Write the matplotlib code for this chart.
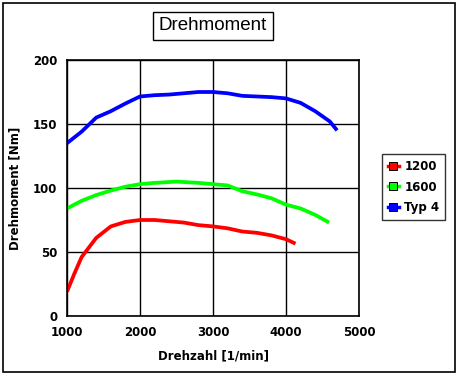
import matplotlib
matplotlib.use("Agg")
import matplotlib.pyplot as plt
from matplotlib.patches import Rectangle
from matplotlib.lines import Line2D

rpm_1200 = [1000, 1100, 1200, 1400, 1600, 1800, 2000, 2200, 2400, 2600, 2800, 3000, 3200, 3400, 3600, 3800, 4000, 4130]
nm_1200 = [19, 33, 46, 61, 70, 73.5, 75, 75, 74, 73, 71, 70, 68.5, 66, 65, 63, 60, 56.5]

rpm_1600 = [1000, 1200, 1400, 1600, 1800, 2000, 2200, 2500, 2800, 3000, 3200, 3400, 3600, 3800, 4000, 4200, 4400, 4590]
nm_1600 = [84, 90, 94.5, 98, 101, 103, 104, 105, 104, 103, 102, 97.5, 95, 92, 87, 84, 79, 73]

rpm_typ4 = [1000, 1200, 1400, 1600, 1800, 2000, 2200, 2400, 2600, 2800, 3000, 3200, 3400, 3600, 3800, 4000, 4200, 4400, 4600, 4700]
nm_typ4 = [135, 144, 155, 160, 166, 171.5, 172.5, 173, 174, 175, 175, 174, 172, 171.5, 171, 170, 166.5, 160, 152, 145]

series = [("1200", rpm_1200, nm_1200, "#ff0000"),
          ("1600", rpm_1600, nm_1600, "#00ff00"),
          ("Typ 4", rpm_typ4, nm_typ4, "#0000ff")]

x_ticks = [1000, 2000, 3000, 4000, 5000]
y_ticks = [0, 50, 100, 150, 200]

W, H = 462, 381
fig = plt.figure(figsize=(W / 100, H / 100), dpi=100)
fig.patch.set_facecolor("white")

# outer border
fig.add_artist(Rectangle((3 / W, 1 - 372 / H), (455 - 3) / W, (372 - 3) / H,
                         transform=fig.transFigure, fill=False, edgecolor="black", lw=1.2))

ax = fig.add_axes([67 / W, 1 - 316 / H, (359 - 67) / W, (316 - 60) / H])
for name, x, y, c in series:
    ax.plot(x, y, color=c, lw=2.7, solid_capstyle="butt", label=name)

ax.set_xlim(1000, 5000)
ax.set_ylim(0, 200)
ax.set_xticks(x_ticks)
ax.set_yticks(y_ticks)
ax.set_xticklabels([str(v) for v in x_ticks], fontweight="bold", fontsize=8.5)
ax.set_yticklabels([str(v) for v in y_ticks], fontweight="bold", fontsize=8.5)
ax.tick_params(length=0, pad=7)
ax.grid(True, color="black", lw=1)
for s in ax.spines.values():
    s.set_linewidth(1.2)
ax.set_axisbelow(True)
ax.set_xlabel("Drehzahl [1/min]", fontweight="bold", fontsize=8.5, labelpad=8)
ax.set_ylabel("Drehmoment [Nm]", fontweight="bold", fontsize=8.5, labelpad=8)

# title box
fig.text(213 / W, 1 - 26 / H, "Drehmoment", ha="center", va="center", fontsize=13.5,
         family="Liberation Sans",
         bbox=dict(boxstyle="square,pad=0.3", facecolor="white", edgecolor="black", lw=1))

handles = [Line2D([0], [0], color=c, lw=2.5, marker="s", markersize=6,
                  markerfacecolor=c, markeredgecolor="black", markeredgewidth=0.7)
           for _, _, _, c in series]
leg = fig.legend(handles, [s[0] for s in series], loc="upper left",
                 bbox_to_anchor=(382 / W, 1 - 154 / H), frameon=True, fancybox=False,
                 edgecolor="black", prop=dict(weight="bold", size=8.5),
                 handlelength=0.9, handletextpad=0.5, borderpad=0.5, labelspacing=0.65,
                 borderaxespad=0)
leg.get_frame().set_linewidth(1)

fig.savefig("out.png", dpi=100)
